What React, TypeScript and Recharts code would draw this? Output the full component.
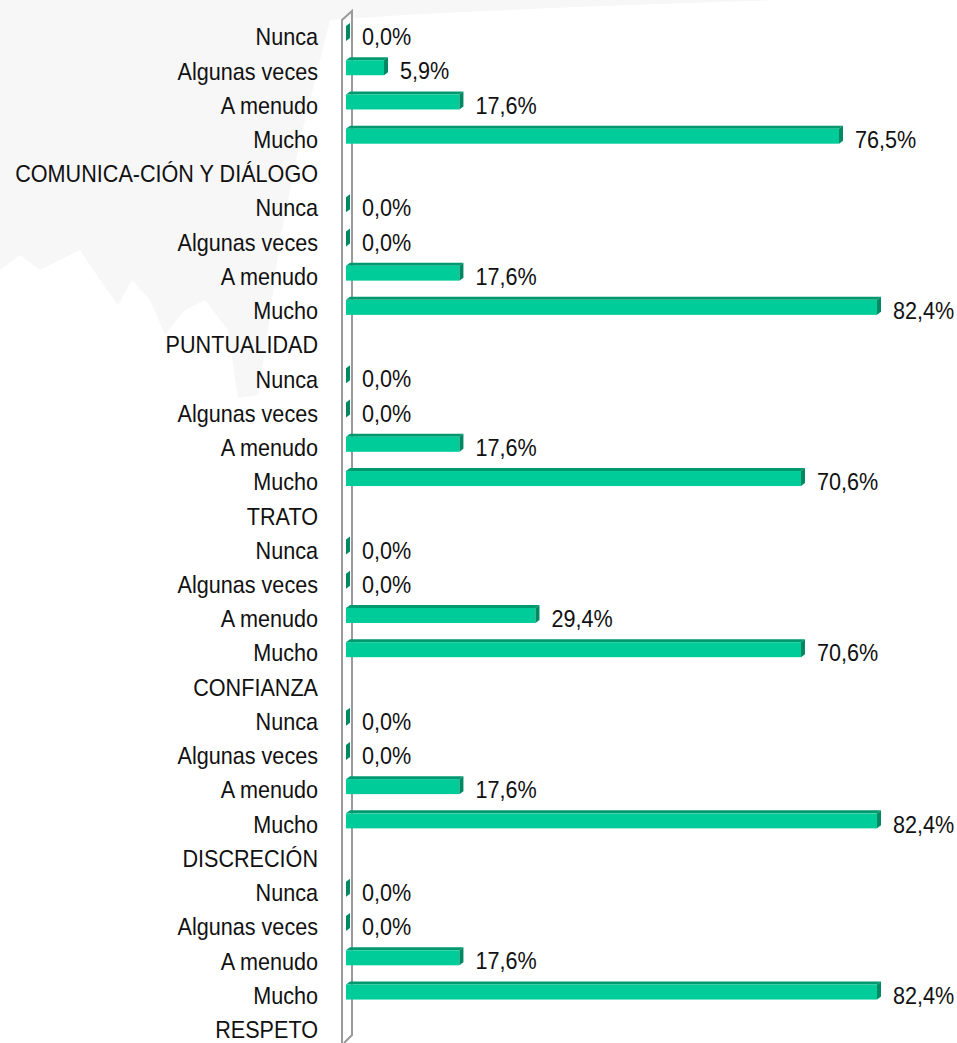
import React from 'react';
import * as R from 'recharts';
import { BarChart, Bar, XAxis, YAxis, LabelList, Customized } from 'recharts';

const levels = ['Nunca', 'Algunas veces', 'A menudo', 'Mucho'];
const groupNames = ['COMUNICA-CIÓN Y DIÁLOGO', 'PUNTUALIDAD', 'TRATO', 'CONFIANZA', 'DISCRECIÓN', 'RESPETO'];
const comunicacion = [0, 5.9, 17.6, 76.5];
const puntualidad = [0, 0, 17.6, 82.4];
const trato = [0, 0, 17.6, 70.6];
const confianza = [0, 0, 29.4, 70.6];
const discrecion = [0, 0, 17.6, 82.4];
const respeto = [0, 0, 17.6, 82.4];
const groupValues = [comunicacion, puntualidad, trato, confianza, discrecion, respeto];

const labels: string[] = [];
const rows: { id: string; value: number | null }[] = [];
groupNames.forEach((g, gi) => {
  levels.forEach((l, li) => {
    labels.push(l);
    rows.push({ id: String(rows.length), value: groupValues[gi][li] });
  });
  labels.push(g);
  rows.push({ id: String(rows.length), value: null });
});

const FONT = '"Liberation Sans", Arial, sans-serif';
const FS = 24;
const SX = 0.9;
const FACE = '#00CC99';
const TOP = '#00996F';
const SIDE = '#008862';
const DX = 4;
const DY = 3;

const Bar3D = (props: any) => {
  const { x, y, width, height, value } = props;
  if (value === null || value === undefined) return null;
  const c = y + height / 2;
  const fTop = c - 11;
  const fBot = c + 4;
  const x0 = x;
  const x1 = x + Math.max(width, 0);
  return (
    <g>
      {width > 0 && (
        <>
          <polygon points={`${x0},${fTop} ${x0 + DX},${fTop - DY} ${x1 + DX},${fTop - DY} ${x1},${fTop}`} fill={TOP} />
          <rect x={x0} y={fTop} width={x1 - x0} height={fBot - fTop} fill={FACE} />
        </>
      )}
      <polygon points={`${x1},${fTop} ${x1 + DX},${fTop - DY} ${x1 + DX},${fBot - DY} ${x1},${fBot}`} fill={SIDE} />
    </g>
  );
};

const ValueLabel = (props: any) => {
  const { x, y, width, height, value } = props;
  if (value === null || value === undefined) return null;
  const c = y + height / 2;
  const tx = x + Math.max(width, 0) + DX + 12;
  return (
    <text transform={`translate(${tx},${c}) scale(${SX},1)`} dy="0.34em" fontSize={FS} fontFamily={FONT} fill="#111">
      {value.toFixed(1).replace('.', ',') + '%'}
    </text>
  );
};

const Tick = (props: any) => {
  const { x, y, payload } = props;
  return (
    <text transform={`translate(${x},${y}) scale(${SX},1)`} textAnchor="end" dy="0.34em" fontSize={FS} fontFamily={FONT} fill="#111">
      {labels[Number(payload.value)]}
    </text>
  );
};

const Wall = () => {
  const usePA = (R as any).usePlotArea;
  const pa = usePA ? usePA() : null;
  const area = pa || { x: 346, y: 20, width: 580, height: 1027 };
  const L = area.x - 4;
  const Rr = L + 10;
  const top = area.y;
  const bot = area.y + area.height;
  const d = `M${L},${bot + 4} L${L},${top} L${Rr},${top - 9} L${Rr},${bot - 12} L${L + 2},${bot - 4}`;
  return <path d={d} fill="none" stroke="#9a9a9a" strokeWidth={2} />;
};

const watermark =
  '0,0 780,0 600,6 420,14 330,20 300,140 280,240 268,330 258,395 238,398 228,330 205,300 185,310 165,335 150,300 132,280 118,305 100,280 80,250 40,270 20,255 0,270';

export default function App() {
  return (
    <div style={{ position: 'absolute', left: 0, top: 0, width: 957, height: 1043, overflow: 'hidden', background: '#fff' }}>
      <svg width={957} height={1043} style={{ position: 'absolute', left: 0, top: 0 }}>
        <polygon points={watermark} fill="#f7f7f7" />
      </svg>
      <div style={{ position: 'absolute', left: 0, top: 0 }}>
        <BarChart
          width={957}
          height={1047}
          data={rows}
          layout="vertical"
          margin={{ top: 20, right: 31, bottom: 0, left: 0 }}
          barSize={18}
        >
          <XAxis type="number" domain={[0, 90]} hide />
          <YAxis
            type="category"
            dataKey="id"
            width={346}
            interval={0}
            tickSize={0}
            tickMargin={28}
            axisLine={false}
            tickLine={false}
            tick={Tick}
          />
          <Customized component={Wall} />
          <Bar dataKey="value" isAnimationActive={false} shape={Bar3D}>
            <LabelList dataKey="value" content={ValueLabel} />
          </Bar>
        </BarChart>
      </div>
    </div>
  );
}
